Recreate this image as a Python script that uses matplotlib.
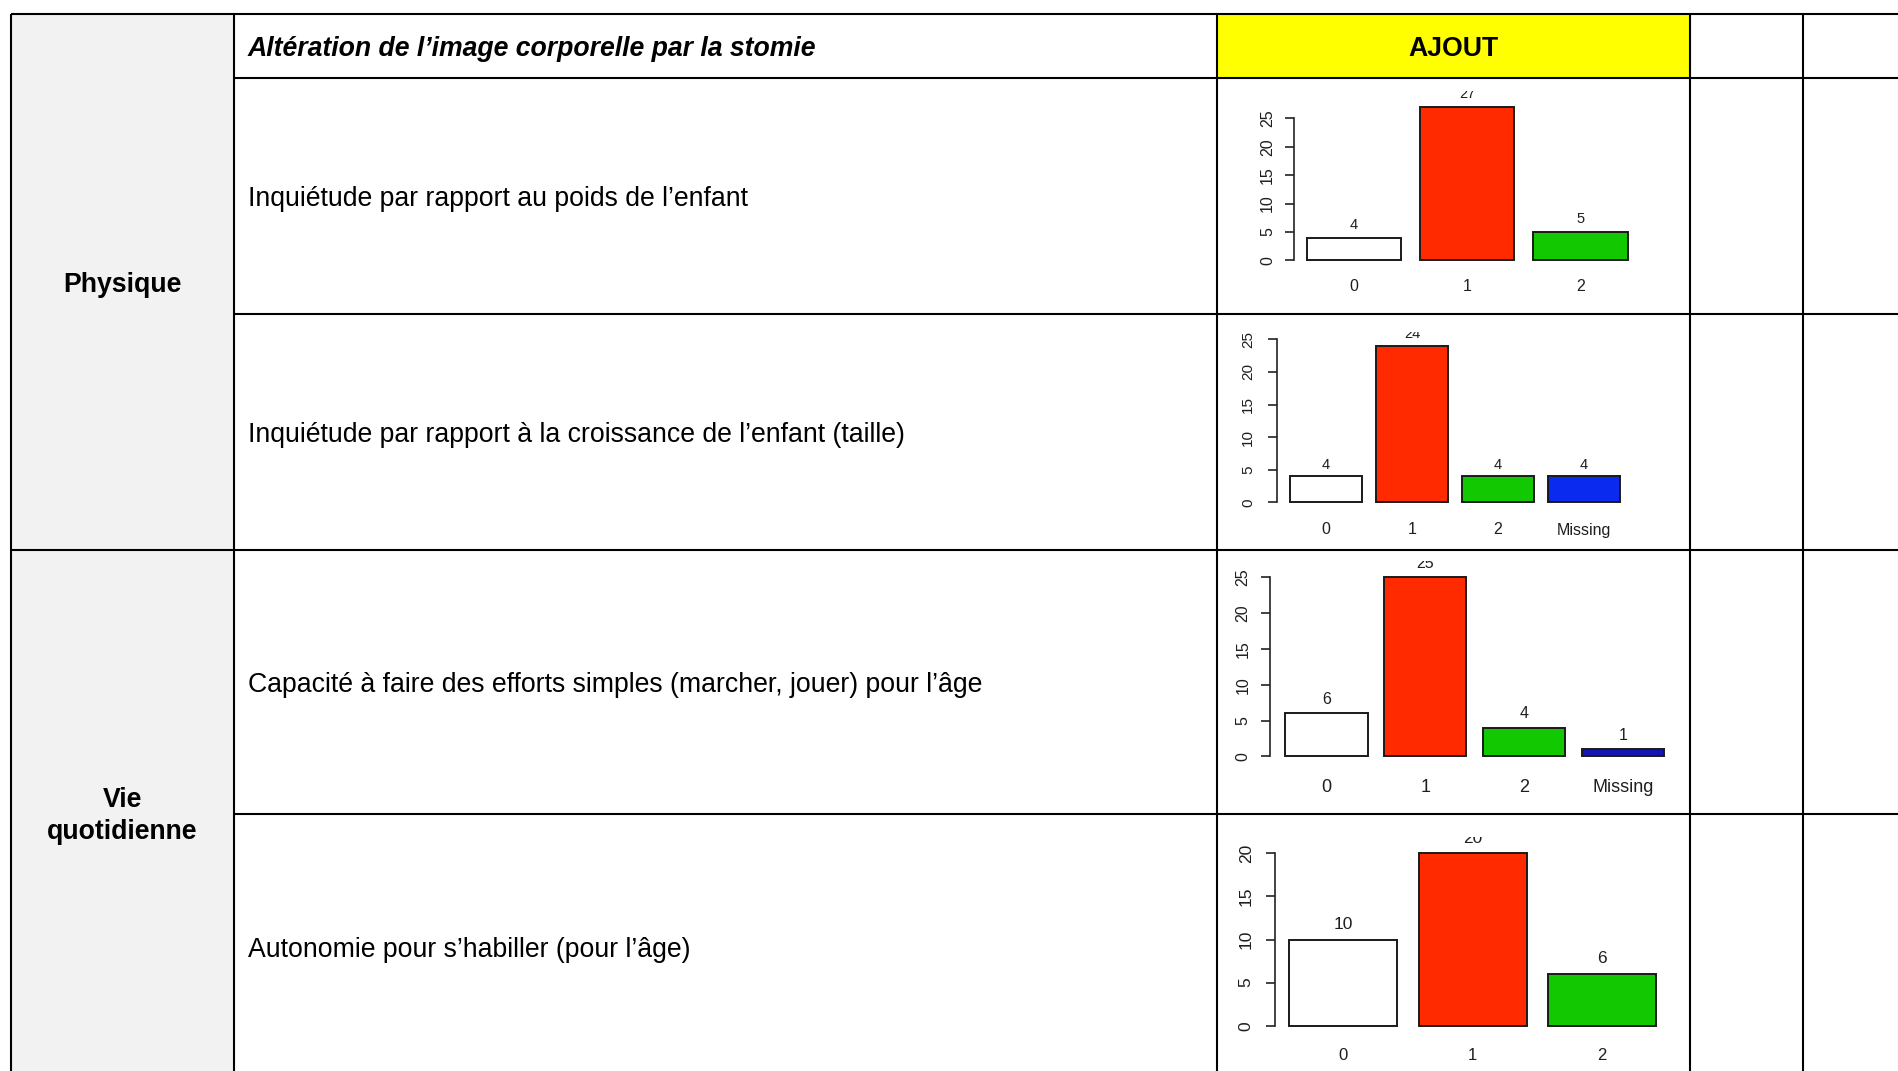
import matplotlib.pyplot as plt
import numpy as np

plt.rcParams['font.family'] = ['Liberation Sans', 'DejaVu Sans']

### TABLE TEXT ###
header_title = "Altération de l’image corporelle par la stomie"
header_tag = "AJOUT"
domains = ["Physique", "Vie\nquotidienne"]
items = ["Inquiétude par rapport au poids de l’enfant",
         "Inquiétude par rapport à la croissance de l’enfant (taille)",
         "Capacité à faire des efforts simples (marcher, jouer) pour l’âge",
         "Autonomie pour s’habiller (pour l’âge)"]

### BAR CHART DATA ###
cats_poids = ["0", "1", "2"]
vals_poids = [4, 27, 5]
cats_croissance = ["0", "1", "2", "Missing"]
vals_croissance = [4, 24, 4, 4]
cats_efforts = ["0", "1", "2", "Missing"]
vals_efforts = [6, 25, 4, 1]
cats_habiller = ["0", "1", "2"]
vals_habiller = [10, 20, 6]
ytop = [25, 25, 25, 20]  # last labelled tick of each y axis

charts = [(cats_poids, vals_poids), (cats_croissance, vals_croissance),
          (cats_efforts, vals_efforts), (cats_habiller, vals_habiller)]

### LAYOUT (figure pixels, y from top) ###
W, H = 1898, 1071
col_x = [11, 234, 1217, 1690, 1803]
row_y = [14, 78, 314, 550, 814, H + 10]
lw_table = 1.5
dy = 2.5  # text baseline nudge

# per chart: first bar left, last bar right, y of 0, px per unit, clip top,
# x label y, value label offset, tick/xlabel/value font sizes, tick pad
geo = [
    dict(l=1306.7, r=1627.7, y0=260.3, k=5.68, top=91, xl=286.7, off=12.6, ft=11.5, fx=11.5, fv=10.5, pad=7),
    dict(l=1290.0, r=1620.0, y0=502.3, k=6.52, top=332, xl=530.0, off=11.5, ft=11, fx=11.5, fv=10.5, pad=9),
    dict(l=1285.3, r=1664.0, y0=756.3, k=7.16, top=561, xl=787.3, off=14.0, ft=11.5, fx=13, fv=11.5, pad=7.8),
    dict(l=1289.3, r=1656.0, y0=1025.7, k=8.62, top=837, xl=1055.0, off=15.0, ft=12.5, fx=12, fv=12.5, pad=8.6),
]
missing_colors = ["#0a2af0", "#0a2af0", "#1414b4", "#1414b4"]
base_colors = ["white", "#ff2a00", "#12c800"]

fig = plt.figure(figsize=(W / 100, H / 100), dpi=100)
bg = fig.add_axes([0, 0, 1, 1])
bg.set_xlim(0, W)
bg.set_ylim(H, 0)
bg.axis("off")

# fills
bg.add_patch(plt.Rectangle((col_x[0], row_y[0]), col_x[1] - col_x[0], H, color="#f2f2f2", zorder=0))
bg.add_patch(plt.Rectangle((col_x[2], row_y[0]), col_x[3] - col_x[2], row_y[1] - row_y[0], color="#ffff00", zorder=0))

# grid lines
bg.hlines([row_y[0], row_y[3]], col_x[0], W + 5, color="black", lw=lw_table)
bg.hlines([row_y[1], row_y[2], row_y[4]], col_x[1], W + 5, color="black", lw=lw_table)
bg.vlines(col_x, row_y[0], H + 5, color="black", lw=lw_table)

# texts
fs = 19.2
bg.text(248, 46 + dy, header_title, fontsize=fs, fontweight="bold", fontstyle="italic", va="center", ha="left")
bg.text((col_x[2] + col_x[3]) / 2, 46 + dy, header_tag, fontsize=fs, fontweight="bold", va="center", ha="center")
bg.text((col_x[0] + col_x[1]) / 2, (row_y[0] + row_y[3]) / 2 + dy, domains[0], fontsize=fs, fontweight="bold", ha="center", va="center")
bg.text((col_x[0] + col_x[1]) / 2, 813.5 + dy, domains[1], fontsize=fs, fontweight="bold", ha="center", va="center",
        multialignment="center", linespacing=1.32)
for i, txt in enumerate(items):
    bg.text(248, (row_y[i + 1] + row_y[i + 2]) / 2 + dy, txt, fontsize=fs, ha="left", va="center")

### BAR CHARTS ###
L, R = col_x[2] + 2, col_x[3] - 2
for i, ((cats, vals), g) in enumerate(zip(charts, geo)):
    n = len(vals)
    bottom = row_y[i + 2] - 1 if i < 3 else H
    ax = fig.add_axes([L / W, 1 - bottom / H, (R - L) / W, (bottom - g["top"]) / H])
    ax.patch.set_alpha(0)

    s = (g["r"] - g["l"]) / (1.2 * n - 0.2)
    a = g["l"] - 0.2 * s
    ax.set_xlim((L - a) / s, (R - a) / s)
    ax.set_ylim((g["y0"] - bottom) / g["k"], (g["y0"] - g["top"]) / g["k"])

    xs = 0.7 + 1.2 * np.arange(n)
    colors = (base_colors + [missing_colors[i]])[:n]
    ax.bar(xs, vals, width=1, color=colors, edgecolor="#1a1a1a", linewidth=1.4)

    off = g["off"] / g["k"]
    for x, v in zip(xs, vals):
        ax.text(x, v + off, str(v), ha="center", va="center", fontsize=g["fv"], color="#1e1e1e", clip_on=True)
    xl = (g["y0"] - g["xl"]) / g["k"]
    for x, c in zip(xs, cats):
        ax.text(x, xl, c, ha="center", va="center", fontsize=g["fx"], color="#1e1e1e")

    # R-style axis
    for sp in ["top", "right", "bottom"]:
        ax.spines[sp].set_visible(False)
    ax.spines["left"].set_position(("data", 0.2 - 0.04 * (1.2 * n - 0.2)))
    ax.spines["left"].set_bounds(0, ytop[i])
    ax.spines["left"].set_color("#222222")
    ax.spines["left"].set_linewidth(1.2)
    ax.set_xticks([])
    ax.set_yticks(np.arange(0, ytop[i] + 1, 5))
    ax.tick_params(axis="y", direction="out", length=6.5, width=1.2, color="#222222",
                   labelsize=g["ft"], labelcolor="#1e1e1e", labelrotation=90, pad=g["pad"])
    for lbl in ax.get_yticklabels():
        lbl.set_va("center")

plt.savefig("out.png", dpi=100)
